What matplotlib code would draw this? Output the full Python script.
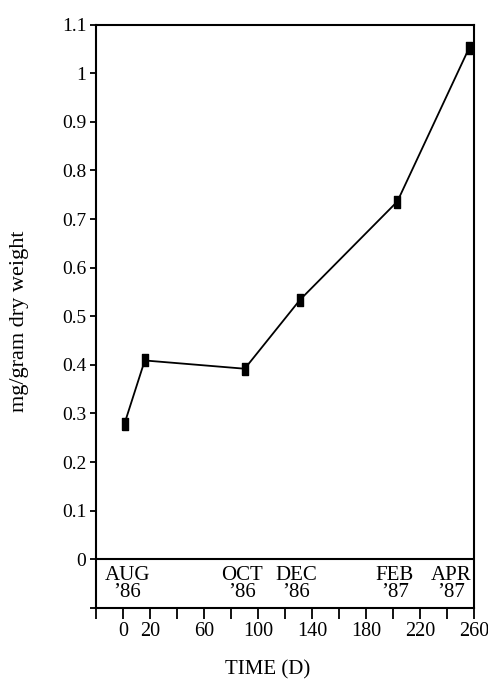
import numpy as np
import matplotlib
matplotlib.use("Agg")
import matplotlib.pyplot as plt

# ─── Data ──────────────────────────────────────────────────────────
days   = [1, 16, 90, 131, 203, 256]
values = [0.279, 0.409, 0.392, 0.534, 0.736, 1.051]

month_labels = ["AUG\n\u201986", "OCT\n\u201986", "DEC\n\u201986", "FEB\n\u201987", "APR\n\u201987"]
month_x      = [3, 88, 128, 201, 243]

x_ticks       = list(range(-20, 261, 20))
x_tick_labels = ["" if t in (-20, 40, 80, 120, 160, 200, 240) else str(t) for t in x_ticks]
y_ticks       = [round(-0.1 + 0.1 * i, 1) for i in range(13)]
y_tick_labels = ["" if t < 0 else ("0" if t == 0 else ("1" if t == 1 else f"{t:g}")) for t in y_ticks]

plt.rcParams["font.family"] = ["Liberation Serif", "DejaVu Serif"]

fig = plt.figure(figsize=(4.88, 6.83), dpi=100)
ax = fig.add_axes([0.197, 0.110, 0.775, 0.854])

# rectangular "error bar" style markers
rect = [(-0.5, -1), (0.5, -1), (0.5, 1), (-0.5, 1), (-0.5, -1)]
ax.plot(days, values, color="black", lw=1.3, marker=rect, ms=8.5,
        mfc="black", mec="black", zorder=3)

# baseline at zero, month strip below it
ax.axhline(0, color="black", lw=1.5)
for lab, mx in zip(month_labels, month_x):
    ax.text(mx, -0.05, lab, ha="center", va="center", fontsize=15,
            linespacing=0.85)

ax.set_xlim(-20, 260)
ax.set_ylim(-0.1, 1.1)
ax.set_xticks(x_ticks)
ax.set_xticklabels(x_tick_labels, fontsize=14.5)
ax.set_yticks(y_ticks)
ax.set_yticklabels(y_tick_labels, fontsize=14)
ax.tick_params(axis="x", direction="out", length=8, width=1.3, pad=2)
ax.tick_params(axis="y", direction="out", length=4, width=1.3, pad=3)
for s in ax.spines.values():
    s.set_linewidth(1.5)

fig.text(0.548, 0.019, "TIME (D)", ha="center", va="center", fontsize=15)
fig.text(0.039, 0.529, "mg/gram dry weight", ha="center", va="center",
         rotation=90, fontsize=16)

fig.savefig("out.png", dpi=100)
